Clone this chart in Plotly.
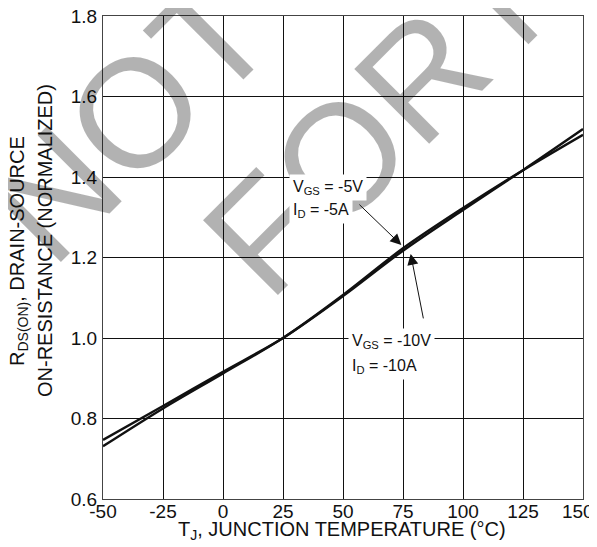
import plotly.graph_objects as go

temps = [-50, -25, 0, 25, 50, 75, 100, 125, 150]
r_vgs5 = [0.747, 0.831, 0.916, 1.0, 1.104, 1.217, 1.318, 1.417, 1.519]
r_vgs10 = [0.731, 0.825, 0.912, 1.0, 1.107, 1.223, 1.323, 1.417, 1.505]

x_ticks = [-50, -25, 0, 25, 50, 75, 100, 125, 150]
x_tick_labels = ["-50", "-25", "0", "25", "50", "75", "100", "125", "150\u00a0\u00a0"]
y_ticks = [0.6, 0.8, 1.0, 1.2, 1.4, 1.6, 1.8]
y_tick_labels = ["0.6", "0.8", "1.0", "1.2", "1.4", "1.6", "1.8"]

FONT = "Liberation Sans, Arial, sans-serif"
OFF = 8                      # default page (body) margin of the html page
W, H = 597 - OFF, 547 - OFF  # figure size
# plot area in page pixels: x 103..583, y 16..499
ML, MT = 103 - OFF, 16 - OFF
MR = W - (583 - OFF)
MB = H - (499 - OFF)
PW, PH = W - ML - MR, H - MT - MB


def px(xp, yp):
    """page pixel position -> paper coordinates"""
    return (xp - OFF - ML) / PW, (H - MB - (yp - OFF)) / PH


fig = go.Figure()
for ys in (r_vgs5, r_vgs10):
    fig.add_trace(go.Scatter(x=temps, y=ys, mode="lines",
                             line=dict(color="#111111", width=2.4, shape="spline", smoothing=0.9),
                             showlegend=False, hoverinfo="skip"))

WM = dict(family=FONT, size=154, color="rgba(0,0,0,0.30)")
annotations = []
for word, (cx, cy) in (("NOT", (129, 119)), ("FOR", (346, 152)), ("N", (521, -23))):
    xp, yp = px(cx, cy)
    annotations.append(dict(text=word, xref="paper", yref="paper", x=xp, y=yp, showarrow=False,
                            textangle=-45, font=WM, xanchor="center", yanchor="middle"))

annotations += [
    dict(x=74.3, y=1.231, ax=56.2, ay=1.335, xref="x", yref="y", axref="x", ayref="y",
         text="", showarrow=True, arrowhead=2, arrowsize=2.2, arrowwidth=1, arrowcolor="#111111"),
    dict(x=78.2, y=1.209, ax=83.6, ay=1.045, xref="x", yref="y", axref="x", ayref="y",
         text="", showarrow=True, arrowhead=2, arrowsize=2.2, arrowwidth=1, arrowcolor="#111111"),
]
LBL = dict(family=FONT, size=16, color="#111111")
for txt, xv, yv in (("V<sub>GS</sub> = -5V", 27.7, 1.373), ("I<sub>D</sub> = -5A", 27.7, 1.316),
                    ("V<sub>GS</sub> = -10V", 51.9, 0.9925), ("I<sub>D</sub> = -10A", 51.9, 0.930)):
    annotations.append(dict(text=txt, x=xv, y=yv, xref="x", yref="y", showarrow=False,
                            xanchor="left", yanchor="middle", align="left",
                            bgcolor="white", borderpad=3, font=LBL))

# axis titles
xt = px(342, 530)
annotations.append(dict(text="T<sub>J</sub>, JUNCTION TEMPERATURE (°C)", xref="paper", yref="paper",
                        x=xt[0], y=xt[1], showarrow=False, xanchor="center", yanchor="middle",
                        font=dict(family=FONT, size=20, color="#111111")))
y1 = px(19, 251)
annotations.append(dict(text="R<sub>DS(ON)</sub>, DRAIN-SOURCE", xref="paper", yref="paper",
                        x=y1[0], y=y1[1], showarrow=False, textangle=-90,
                        xanchor="center", yanchor="middle",
                        font=dict(family=FONT, size=20, color="#111111")))
y2 = px(45, 241)
annotations.append(dict(text="ON-RESISTANCE (NORMALIZED)", xref="paper", yref="paper",
                        x=y2[0], y=y2[1], showarrow=False, textangle=-90,
                        xanchor="center", yanchor="middle",
                        font=dict(family=FONT, size=20, color="#111111")))

fig.update_layout(
    width=W, height=H,
    margin=dict(l=ML, r=MR, t=MT, b=MB, autoexpand=False),
    paper_bgcolor="white", plot_bgcolor="white",
    font=dict(family=FONT, size=19, color="#111111"),
    annotations=annotations,
    xaxis=dict(range=[-50, 150], tickvals=x_ticks, ticktext=x_tick_labels,
               showgrid=True, gridcolor="#111111", gridwidth=1, zeroline=False, automargin=False,
               showline=True, linecolor="#444444", linewidth=1, mirror=True, ticks="",
               tickfont=dict(size=19), ticklabeloverflow="allow", ticklabelstandoff=-5),
    yaxis=dict(range=[0.6, 1.8], tickvals=y_ticks, ticktext=y_tick_labels,
               showgrid=True, gridcolor="#111111", gridwidth=1, zeroline=False, automargin=False,
               showline=True, linecolor="#444444", linewidth=1, mirror=True, ticks="",
               tickfont=dict(size=19), ticklabelstandoff=1, ticklabeloverflow="allow"),
)

fig.write_html("out.html")
